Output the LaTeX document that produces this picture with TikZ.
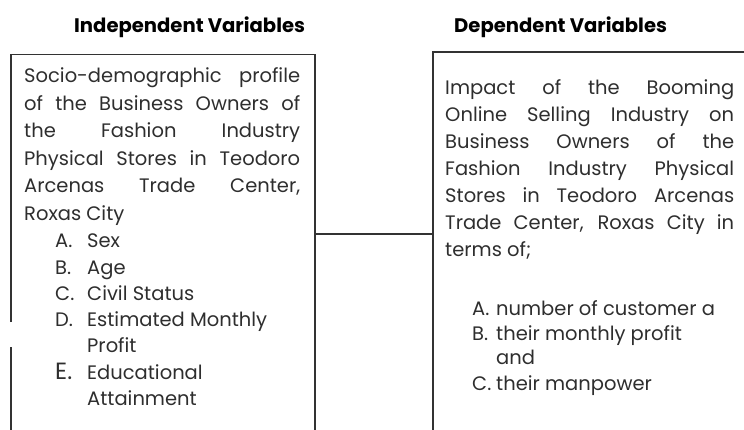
\documentclass[tikz,border=0pt]{standalone}
\usepackage{fontspec}
\setmainfont{Poppins}
\begin{document}
\begin{tikzpicture}[x=1pt,y=-1pt,
  frame/.style={draw=black!80, line width=1.3pt},
  head/.style={font=\bfseries\fontsize{19.6}{22}\selectfont, anchor=base west, inner sep=0pt},
  body/.style={font=\fontsize{19.5}{26}\selectfont, text=black!82, anchor=base west, inner sep=0pt}
]
\useasboundingbox (0,0) rectangle (744,430);

% column headings
\node[head] (hindep) at (74,33) {Independent Variables};
\node[head] (hdep) at (454,33) {Dependent Variables};

% frame of the independent-variable box (open at the bottom, small break on the left)
\draw[frame] (11,430) -- (11,347);
\draw[frame] (11,322) -- (11,54.5) -- (315,54.5) -- (315,430);
% frame of the dependent-variable box (runs off to the right)
\draw[frame] (744,52) -- (433,52) -- (433,430);

% link between the two boxes
\coordinate (lout) at (315,234);
\coordinate (rin) at (433,234);
\draw[frame] (lout) -- (rin);

% independent variables
\node[body] (ipar) at (24,83) {\parbox[t]{276pt}{\baselineskip=27.5pt\lineskiplimit=-10pt
\makebox[\linewidth][s]{Socio-demographic profile}\\
\makebox[\linewidth][s]{of the Business Owners of}\\
\makebox[\linewidth][s]{the Fashion Industry}\\
\makebox[\linewidth][s]{Physical Stores in Teodoro}\\
\makebox[\linewidth][s]{Arcenas Trade Center,}\\
Roxas City}};
\node[body] (ilist) at (55,248) {\parbox[t]{250pt}{\baselineskip=26.2pt\lineskiplimit=-10pt
\makebox[32pt][l]{A.}Sex\\
\makebox[32pt][l]{B.}Age\\
\makebox[32pt][l]{C.}Civil Status\\
\makebox[32pt][l]{D.}Estimated Monthly\\
\hspace*{32pt}Profit\\
\makebox[32pt][l]{\fontsize{23.5}{26}\selectfont E.}Educational\\
\hspace*{32pt}Attainment}};

% dependent variables
\node[body] (dpar) at (445,95) {\parbox[t]{289pt}{\baselineskip=27pt\lineskiplimit=-10pt
\makebox[\linewidth][s]{Impact of the Booming}\\
\makebox[\linewidth][s]{Online Selling Industry on}\\
\makebox[\linewidth][s]{Business Owners of the}\\
\makebox[\linewidth][s]{Fashion Industry Physical}\\
\makebox[\linewidth][s]{Stores in Teodoro Arcenas}\\
\makebox[\linewidth][s]{Trade Center, Roxas City in}\\
terms of;}};
\node[body] (dlist) at (472,315) {\parbox[t]{270pt}{\baselineskip=25pt\lineskiplimit=-10pt
\makebox[24pt][l]{A.}number of customer a\\
\makebox[24pt][l]{B.}their monthly profit\\
\hspace*{24pt}and\\
\makebox[24pt][l]{C.}their manpower}};
\end{tikzpicture}
\end{document}
